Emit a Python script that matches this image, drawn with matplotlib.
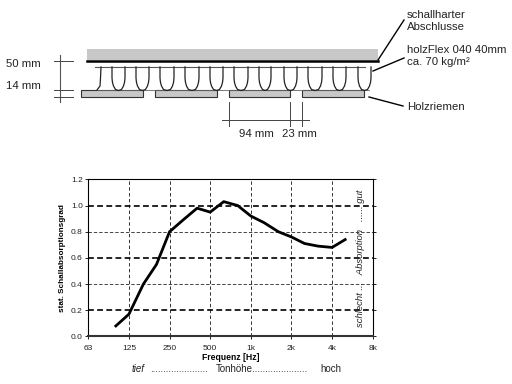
import matplotlib
matplotlib.use("Agg")
import matplotlib.pyplot as plt
from matplotlib.patches import Rectangle

plt.rcParams['font.family'] = ['Liberation Sans', 'DejaVu Sans']

# absorption curve
freq = [100, 125, 160, 200, 250, 315, 400, 500, 630, 800, 1000, 1250, 1600, 2000, 2500, 3150, 4000, 5000]
alpha = [0.08, 0.17, 0.40, 0.55, 0.80, 0.89, 0.98, 0.95, 1.03, 1.00, 0.92, 0.87, 0.80, 0.76, 0.71, 0.69, 0.68, 0.74]
freq_ticks = [62.5, 125, 250, 500, 1000, 2000, 4000, 8000]
freq_labels = ['63', '125', '250', '500', '1k', '2k', '4k', '8k']
alpha_ticks = [0.0, 0.2, 0.4, 0.6, 0.8, 1.0, 1.2]

# diagram, in pixels of the 512x384 picture
boards = [(81, 143), (155, 217), (228.5, 290), (302, 364)]
u_shapes = [(112, 125), (136, 149), (160, 174), (185, 199), (210, 223), (234, 248),
            (259, 271), (284, 297), (308, 322), (333, 346), (358, 371)]
dim_ticks_y = [61, 90, 97]
dim_ticks_x = [229, 290, 302]
leaders = [((378, 60), (404, 20)), ((373, 71), (404, 58)), ((369, 97), (403, 106))]
labels = [(6.5, 64, '50 mm'), (6.5, 86, '14 mm'), (407, 14.5, 'schallharter'), (407, 27, 'Abschlusse'),
          (407, 50, 'holzFlex 040 40mm'), (407, 62, 'ca. 70 kg/m²'), (407, 107, 'Holzriemen'),
          (239, 134, '94 mm'), (282, 134, '23 mm')]

fig = plt.figure(figsize=(5.12, 3.84), dpi=100)

# top diagram
d = fig.add_axes([0, 0, 1, 1])
d.set_xlim(0, 512)
d.set_ylim(384, 0)
d.axis('off')
d.add_patch(Rectangle((87, 49), 291, 11, fc='#c8c8c8', ec='none'))
d.plot([87, 378], [60.5, 60.5], color='black', lw=1.8)
d.plot([95, 365], [67, 67], color='#555555', lw=0.8)
d.plot([97, 369], [90, 90], color='#666666', lw=0.6)
for a, b in boards:
    d.add_patch(Rectangle((a, 90), b - a, 7, fc='#c8c8c8', ec='#333333', lw=0.8))
for a, b in u_shapes:
    m = (a + b) / 2
    d.plot([a, a, a + 0.4, a + 1.5, a + 3.5, m, b - 3.5, b - 1.5, b - 0.4, b, b],
           [67, 78, 82, 86, 89.5, 90.5, 89.5, 86, 82, 78, 67], color='#222222', lw=0.9)
# first half shape on the left
d.plot([101, 100.5, 100, 97], [67, 78, 86, 90], color='#222222', lw=0.9)
d.plot([60, 60], [55, 102], color='#555555', lw=0.8)
for y in dim_ticks_y:
    d.plot([54, 73], [y, y], color='#444444', lw=0.7)
for x in dim_ticks_x:
    d.plot([x, x], [102, 126], color='#444444', lw=0.7)
d.plot([222, 309], [120, 120], color='#444444', lw=0.7)
for p, q in leaders:
    d.plot([p[0], q[0]], [p[1], q[1]], color='black', lw=1.0)
for x, y, s in labels:
    d.text(x, y, s, fontsize=8.2, color='#222222', ha='left', va='center')

# absorption chart
ax = fig.add_axes([88.3 / 512, 1 - 336.4 / 384, 284.4 / 512, 157 / 384])
ax.set_xscale('log', base=2)
ax.set_xlim(freq_ticks[0], freq_ticks[-1])
ax.set_ylim(0, 1.2)
ax.minorticks_off()
ax.set_xticks(freq_ticks, freq_labels)
ax.set_yticks(alpha_ticks, ['%.1f' % v for v in alpha_ticks])
ax.tick_params(labelsize=6, length=2, width=0.7, colors='#222222', right=True)
ax.tick_params(axis='x', pad=4.5)
ax.tick_params(axis='y', pad=2)
for f in freq_ticks[1:-1]:
    ax.axvline(f, color='#333333', lw=0.7, dashes=(3.5, 2.5))
for v in alpha_ticks[1:-1]:
    strong = v in (0.2, 0.6, 1.0)
    ax.axhline(v, color='black' if strong else '#444444', lw=1.2 if strong else 0.7, dashes=(3.5, 2))
ax.plot(freq, alpha, color='black', lw=2.0, solid_joinstyle='round')
for s in ax.spines.values():
    s.set_linewidth(0.8)
ax.spines['bottom'].set_linewidth(1.5)
ax.spines['bottom'].set_color('#333333')
ax.set_ylabel('stat. Schallabsorptionsgrad', fontsize=5.9, fontweight='bold')
ax.yaxis.set_label_coords(-0.08, 0.5)
ax.set_xlabel('Frequenz [Hz]', fontsize=6.2, fontweight='bold')
ax.xaxis.set_label_coords(0.5, -0.105)
ax.text(0.958, 0.5, 'schlecht ...   Absorption   ...... gut', transform=ax.transAxes, rotation=90,
        fontsize=6.8, fontstyle='italic', ha='center', va='center', color='#222222')
d.text(132, 369, 'tief', fontsize=7, fontstyle='italic', ha='left', va='center', color='#222222')
d.text(150, 369, '......................', fontsize=7, ha='left', va='center', color='#222222')
d.text(216, 369, 'Tonhöhe.....................', fontsize=7, ha='left', va='center', color='#222222')
d.text(320, 369, 'hoch', fontsize=7, ha='left', va='center', color='#222222')

fig.savefig('out.png', dpi=100)
